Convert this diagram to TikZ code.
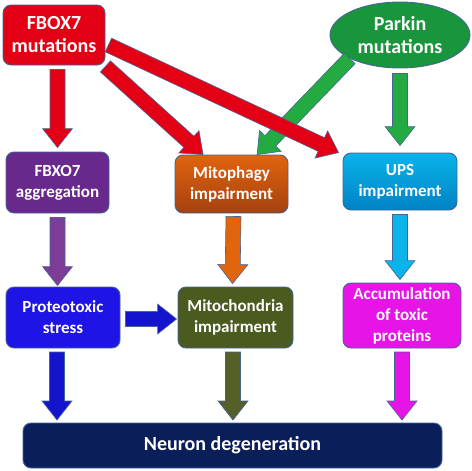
\documentclass[tikz,border=0pt]{standalone}
\usepackage{fontspec}
\setmainfont{Carlito}
\usetikzlibrary{shapes,positioning,calc}

\definecolor{edgeblue}{RGB}{70,100,150}
\definecolor{fboxred}{RGB}{228,0,20}
\definecolor{parkgreen}{RGB}{25,150,60}
\definecolor{arrgreen}{RGB}{35,170,65}
\definecolor{aggpurple}{RGB}{105,40,140}
\definecolor{arrpurple}{RGB}{125,60,150}
\definecolor{mitorange}{RGB}{225,100,15}
\definecolor{mitbrown}{RGB}{165,65,15}
\definecolor{upscyan}{RGB}{10,180,235}
\definecolor{upsdark}{RGB}{0,130,195}
\definecolor{protblue}{RGB}{30,20,230}
\definecolor{arrblue}{RGB}{20,20,205}
\definecolor{olive}{RGB}{75,90,30}
\definecolor{arrolive}{RGB}{85,95,40}
\definecolor{magent}{RGB}{230,20,230}
\definecolor{navy}{RGB}{10,30,90}

\tikzset{
  box/.style={draw=edgeblue, line width=0.9pt, rounded corners=8pt, text=white,
    font=\fontsize{20}{23}\selectfont\bfseries, align=center, inner sep=0pt},
  smallbox/.style={box, font=\fontsize{17}{21}\selectfont\bfseries},
  barrow/.style={draw=edgeblue, line width=0.6pt, fill=#1}
}

% block arrow: colour, from, to
\newcommand{\blockarrow}[3]{%
  \coordinate (ba-s) at (#2);
  \coordinate (ba-t) at (#3);
  \coordinate (ba-h) at ($(ba-t)!19pt!(ba-s)$);
  \filldraw[barrow=#1] ($(ba-s)!7.5pt!90:(ba-t)$) -- ($(ba-h)!7.5pt!90:(ba-t)$)
    -- ($(ba-h)!15pt!90:(ba-t)$) -- (ba-t) -- ($(ba-h)!15pt!-90:(ba-t)$)
    -- ($(ba-h)!7.5pt!-90:(ba-t)$) -- ($(ba-s)!7.5pt!-90:(ba-t)$) -- cycle;
}

\begin{document}
\begin{tikzpicture}[x=1pt,y=-1pt]
  \useasboundingbox (0,0) rectangle (472,471);

  \node[box, fill=fboxred, minimum width=102pt, minimum height=60pt] (fbox) at (54,35) {FBOX7\\mutations};
  \node[box, ellipse, rounded corners=0pt, fill=parkgreen, minimum width=140pt, minimum height=66pt] (parkin) at (400,35) {Parkin\\mutations};

  \node[smallbox, fill=aggpurple, minimum width=103pt, minimum height=61pt] (aggr) at (57.5,182.5) {FBXO7\\aggregation};
  \node[smallbox, top color=mitorange, bottom color=mitbrown, minimum width=113pt, minimum height=58pt] (mitophagy) at (231.5,184) {Mitophagy\\impairment};
  \node[smallbox, top color=upscyan, bottom color=upsdark, minimum width=114pt, minimum height=57pt] (ups) at (400,181.5) {UPS\\impairment};

  \node[smallbox, fill=protblue, minimum width=114pt, minimum height=61pt] (proteo) at (63,317.5) {Proteotoxic\\stress};
  \node[smallbox, fill=olive, minimum width=115pt, minimum height=61pt] (mitoch) at (235.5,317.5) {Mitochondria\\impairment};
  \node[smallbox, fill=magent, minimum width=118pt, minimum height=65pt] (accum) at (402,315.5) {Accumulation\\of toxic\\proteins};

  \node[box, fill=navy, minimum width=419pt, minimum height=45pt] (neuron) at (232.5,445.5) {Neuron degeneration};

  % arrows from the mutations
  \blockarrow{arrgreen}{parkin.205}{$(mitophagy.north)!0.45!(mitophagy.north east)$}
  \blockarrow{arrgreen}{$(parkin.south)+(0,5)$}{$(ups.north)+(0,-7)$}
  \blockarrow{fboxred}{$(aggr.north |- fbox.south)+(0,4)$}{$(aggr.north)+(0,-4)$}
  \blockarrow{fboxred}{$(fbox.south east)+(0,1)$}{$(mitophagy.north)!0.5!(mitophagy.north west)$}
  \blockarrow{fboxred}{$(fbox.east)!0.33!(fbox.south east)+(3,0)$}{$(ups.north west)+(-4,0)$}

  % middle row
  \blockarrow{arrpurple}{$(aggr.south)+(0,4)$}{$(aggr.south |- proteo.north)+(0,-1)$}
  \blockarrow{mitorange}{$(mitophagy.south)+(2,3)$}{$(mitophagy.south |- mitoch.north)+(1,-3)$}
  \blockarrow{upscyan}{$(ups.south)+(0,4)$}{$(ups.south |- accum.north)+(0,-3)$}
  \blockarrow{arrblue}{$(proteo.east)+(5,1.5)$}{$(mitoch.west |- proteo.east)+(-1,1.5)$}

  % into neuron degeneration
  \foreach \c/\n/\x in {arrblue/proteo/57, arrolive/mitoch/233, magent/accum/402}{
    \blockarrow{\c}{\x,352}{\x,420}
  }
\end{tikzpicture}
\end{document}
